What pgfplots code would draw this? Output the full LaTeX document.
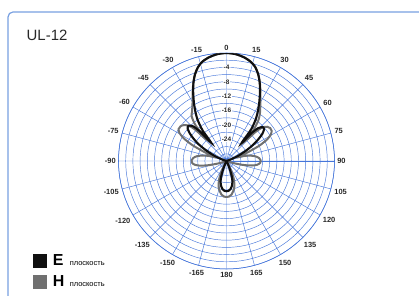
\documentclass[border=0pt]{standalone}
\usepackage{pgfplots}
\pgfplotsset{compat=1.18}
\usepackage{pgfplotstable}
\usepgfplotslibrary{polar}
\usepackage{fontspec}
\setmainfont{Liberation Sans}
\definecolor{gridblue}{RGB}{70,118,218}
\definecolor{frameblue}{RGB}{120,160,225}
\definecolor{hgray}{RGB}{112,112,112}
\definecolor{eblack}{RGB}{16,16,16}
\definecolor{lbl}{RGB}{40,40,40}

% E plane: angle (deg, clockwise from top), level (dB)
\pgfplotstableread{
t db
-180 -21.6
-176 -21.7
-172 -22.1
-168 -22.9
-164 -24.0
-161 -25.5
-158 -27.5
-155 -29.3
-152 -30
-76 -30
-73 -29.5
-70 -28.3
-66 -26
-62 -23.2
-59 -21
-56 -19
-53 -17.2
-50 -15.9
-47 -15.6
-44 -16.6
-42 -19
-40 -23.5
-38 -19.2
-35 -16
-32 -13.6
-29 -11.3
-26 -8.9
-23 -6.5
-20 -4.4
-17 -2.8
-14 -1.7
-10 -0.85
-5 -0.22
0 0
5 -0.22
10 -0.85
14 -1.7
17 -2.7
20 -4.3
23 -6.4
26 -8.8
29 -11.2
32 -13.5
35 -15.8
38 -19
40 -23.5
42 -19.5
44 -17.3
47 -16.2
50 -16.4
53 -17.6
56 -19.5
59 -21.6
62 -23.8
66 -26.5
70 -28.8
73 -29.7
76 -30
152 -30
155 -29.3
158 -27.5
161 -25.5
164 -24.0
168 -22.9
172 -22.1
176 -21.7
180 -21.6
}\Eplane

% H plane
\pgfplotstableread{
t db
-180 -20
-176 -20.1
-172 -20.5
-168 -21.3
-163 -22.5
-158 -24.5
-154 -27
-150 -29.5
-147 -30
-112 -30
-109 -29
-106 -27.3
-103 -24.8
-100 -22.6
-97 -21.2
-93 -20.4
-89 -20.3
-85 -20.7
-81 -21.6
-77 -23.2
-74 -25
-71 -26.8
-68 -23.5
-65 -19.5
-62 -16.5
-59 -14.7
-56 -14.0
-53 -14.0
-50 -14.5
-47 -15.6
-45 -17.5
-43 -22
-41 -17
-38 -14.3
-35 -13.3
-32 -12.1
-29 -10.6
-26 -8.6
-23 -6.4
-20 -4.4
-17 -2.8
-14 -1.7
-10 -0.85
-5 -0.22
0 0
5 -0.22
10 -0.85
14 -1.7
17 -2.7
20 -4.3
23 -6.3
26 -8.5
29 -10.6
32 -12.3
35 -13.8
38 -15.6
41 -18.5
43 -22.5
45 -18.5
47 -16.3
50 -15.2
53 -14.8
56 -14.9
59 -15.6
62 -17.2
65 -20
68 -23.8
71 -26.8
74 -25
77 -23.3
81 -21.8
85 -20.9
89 -20.5
93 -20.6
97 -21.4
100 -22.8
103 -25
106 -27.5
109 -29.2
112 -30
147 -30
150 -29.5
154 -27
158 -24.5
163 -22.5
168 -21.3
172 -20.5
176 -20.1
180 -20
}\Hplane

\begin{document}
\begin{tikzpicture}
\useasboundingbox (0bp,0bp) rectangle (419bp,296bp);
\draw[frameblue, line width=1.2bp, rounded corners=5bp] (8bp,-20bp) -- (8bp,284bp) -- (440bp,284bp);
\node[anchor=base west, font=\fontsize{15}{16}\selectfont, text=lbl, inner sep=0pt] at (26.5bp,255.5bp) {UL-12};
\begin{polaraxis}[
  at={(226.5bp,135bp)}, anchor=center,
  width=216bp, height=216bp, scale only axis,
  xmin=0, xmax=360, ymin=0, ymax=30,
  xtick={0,15,...,345},
  xticklabels={90,75,60,45,30,15,0,-15,-30,-45,-60,-75,-90,-105,-120,-135,-150,-165,180,165,150,135,120,105},
  ytick={0,2,...,30},
  yticklabels={},
  grid=major,
  major grid style={draw=gridblue, line width=0.45bp},
  axis line style={draw=gridblue, line width=0.55bp},
  major tick length=0pt,
  xticklabel style={font=\fontsize{7.5}{9}\selectfont\bfseries, text=lbl, inner sep=2.6bp},
  legend style={at={(axis description cs:-0.396,0.07)}, anchor=north west,
    draw=none, fill=none, inner sep=0pt, row sep=7.5bp, column sep=6bp,
    nodes={inner sep=0pt}},
  legend cell align=left,
  reverse legend,
  legend image code/.code={\fill[#1] (0bp,-5.8bp) rectangle (11.5bp,5.8bp);},
]
\addplot[color=hgray, line width=2bp, smooth, tension=0.45]
  table[x expr={90-\thisrow{t}}, y expr={\thisrow{db}+30}] {\Hplane};
\addlegendentry{\makebox[17bp][l]{\fontsize{16}{16}\selectfont\bfseries H}{\fontsize{7.5}{8}\selectfont плоскость}}
\addplot[color=eblack, line width=2.1bp, smooth, tension=0.45]
  table[x expr={90-\thisrow{t}}, y expr={\thisrow{db}+30}] {\Eplane};
\addlegendentry{\makebox[17bp][l]{\fontsize{16}{16}\selectfont\bfseries E}{\fontsize{7.5}{8}\selectfont плоскость}}
\foreach \r/\l in {26/-4,22/-8,18/-12,14/-16,10/-20,6/-24} {
  \edef\tmp{\noexpand\node[font=\noexpand\fontsize{6.5}{7}\noexpand\selectfont\noexpand\bfseries, text=lbl, fill=white, inner sep=0.4bp] at (axis cs:90,\r) {\l};}
  \tmp
}
\end{polaraxis}
\end{tikzpicture}
\end{document}
